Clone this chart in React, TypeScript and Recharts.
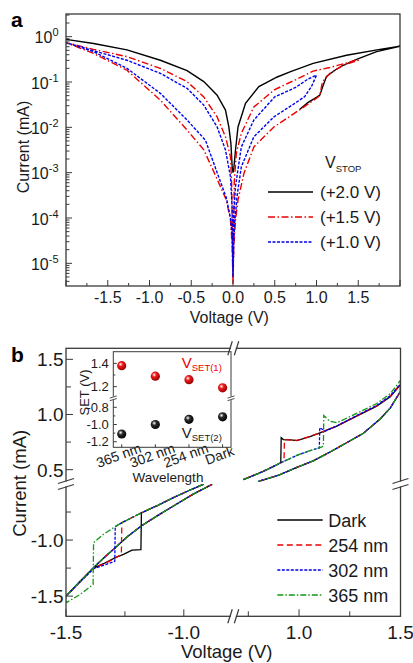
import { LineChart, Line, XAxis, YAxis, Legend, ScatterChart, Scatter } from 'recharts'

type Pt = [number, number]

const FONT = '"Liberation Sans", Arial, Helvetica, sans-serif'
const INK = '#1a1a1a'
const FRAME = '#3a3a3a'

// ---------- panel a: |I| (mA) vs V, every array is one sweep in measured order
const stop20: Pt[] = [
  [0.8, 0.0251], [0.9, 0.0355], [1.0, 0.0457], [1.04, 0.0513], [1.08, 0.0851], [1.12, 0.132], [1.22, 0.182],
  [1.32, 0.234], [1.48, 0.316], [1.72, 0.468], [2.0, 0.617],
  [1.76, 0.525], [1.36, 0.389], [0.96, 0.257], [0.69, 0.17], [0.53, 0.129], [0.31, 0.0794], [0.15, 0.0339],
  [0.06, 0.0102], [0.03, 0.00316], [0.01, 0.00126], [0, 0.001],
  [-0.01, 0.00135], [-0.025, 0.00437], [-0.05, 0.0102], [-0.09, 0.024], [-0.19, 0.0513], [-0.35, 0.102],
  [-0.55, 0.178], [-0.87, 0.302], [-1.27, 0.513], [-1.67, 0.708], [-2.0, 0.871],
]
const stop15: Pt[] = [
  [0, 3.5e-6], [0.01, 2.5e-5], [0.03, 8.9e-5], [0.06, 2.5e-4], [0.13, 9.5e-4], [0.25, 0.0037], [0.49, 0.0102],
  [0.65, 0.016], [0.8, 0.0245], [1.0, 0.0437], [1.04, 0.05], [1.07, 0.1], [1.16, 0.155], [1.32, 0.234], [1.5, 0.302],
  [1.5, 0.316], [1.36, 0.263], [1.16, 0.209], [0.96, 0.174], [0.75, 0.112], [0.5, 0.068], [0.25, 0.0282],
  [0.1, 0.0074], [0.04, 0.0027], [0.015, 6.3e-4], [0, 3.5e-6],
  [-0.015, 5e-4], [-0.03, 0.00224], [-0.09, 0.00617], [-0.19, 0.017], [-0.35, 0.0468], [-0.55, 0.102],
  [-0.87, 0.2], [-1.27, 0.363], [-1.67, 0.525], [-2.0, 0.741],
  [-1.67, 0.427], [-1.27, 0.182], [-0.87, 0.0398], [-0.55, 0.0087], [-0.35, 0.0032], [-0.2, 7.9e-4],
  [-0.08, 2.5e-4], [-0.03, 8.9e-5], [-0.01, 2.5e-5], [0, 3.5e-6],
]
const stop10: Pt[] = [
  [0, 5e-6], [0.01, 3.2e-5], [0.02, 7.9e-5], [0.05, 3.2e-4], [0.1, 0.00135], [0.25, 0.0062], [0.49, 0.017],
  [0.75, 0.0347], [0.86, 0.0479], [0.94, 0.0794], [1.0, 0.141],
  [0.9, 0.117], [0.75, 0.0759], [0.5, 0.047], [0.25, 0.0145], [0.1, 0.0037], [0.03, 5e-4], [0.01, 1.3e-4], [0, 5e-6],
  [-0.01, 1.6e-4], [-0.03, 8.1e-4], [-0.09, 0.00316], [-0.19, 0.0102], [-0.35, 0.0309], [-0.55, 0.0724],
  [-0.87, 0.155], [-1.27, 0.302], [-1.67, 0.49], [-2.0, 0.741],
  [-1.67, 0.468], [-1.27, 0.2], [-0.87, 0.0562], [-0.55, 0.0145], [-0.33, 0.0052], [-0.19, 0.001],
  [-0.08, 2.8e-4], [-0.03, 1e-4], [-0.01, 4e-5], [0, 5e-6],
]
const stopNames = ['(+2.0 V)', '(+1.5 V)', '(+1.0 V)']

// ---------- panel b: I (mA) vs V, negative and positive sweeps
const negReturn: Pt[] = [
  [-1.5, -1.5], [-1.453, -1.396], [-1.383, -1.246], [-1.34, -1.16], [-1.291, -1.068], [-1.24, -0.97],
  [-1.181, -0.875], [-1.11, -0.78], [-1.044, -0.696], [-0.96, -0.59], [-0.88, -0.503],
]
const darkNeg: Pt[] = [
  [-0.917, -0.503], [-0.98, -0.56], [-1.044, -0.621], [-1.11, -0.69], [-1.18, -0.757],
  [-1.182, -1.085], [-1.22, -1.09], [-1.256, -1.128], [-1.291, -1.157], [-1.341, -1.211], [-1.383, -1.25],
  [-1.453, -1.4],
]
const nm254Neg: Pt[] = [
  [-0.917, -0.503], [-0.98, -0.56], [-1.044, -0.621], [-1.11, -0.69], [-1.178, -0.755], [-1.263, -0.845],
  [-1.265, -1.13], [-1.291, -1.16], [-1.341, -1.215], [-1.383, -1.25], [-1.453, -1.4],
]
const nm302Neg: Pt[] = [
  [-0.917, -0.503], [-0.98, -0.56], [-1.044, -0.621], [-1.11, -0.69], [-1.178, -0.755], [-1.263, -0.845],
  [-1.291, -0.88], [-1.293, -1.19], [-1.341, -1.225], [-1.383, -1.255], [-1.453, -1.4],
]
const nm365Neg: Pt[] = [
  [-0.917, -0.503], [-0.98, -0.56], [-1.044, -0.621], [-1.11, -0.69], [-1.178, -0.755], [-1.263, -0.845],
  [-1.291, -0.88], [-1.341, -0.949], [-1.383, -1.023], [-1.385, -1.396], [-1.44, -1.485], [-1.5, -1.56],
]

const posReturn: Pt[] = [
  [1.5, 1.21], [1.45, 1.06], [1.4, 0.96], [1.317, 0.83], [1.25, 0.76], [1.153, 0.66], [1.07, 0.58],
  [0.989, 0.52], [0.9, 0.45], [0.8, 0.394],
]
const darkPos: Pt[] = [
  [0.726, 0.409], [0.78, 0.45], [0.824, 0.485], [0.87, 0.525], [0.91, 0.563], [0.912, 0.79], [0.923, 0.773],
  [0.96, 0.77], [0.989, 0.764], [1.054, 0.8], [1.103, 0.833], [1.186, 0.894], [1.284, 0.985], [1.383, 1.076],
  [1.45, 1.16], [1.5, 1.27],
]
const nm254Pos: Pt[] = [
  [0.726, 0.412], [0.78, 0.452], [0.824, 0.487], [0.87, 0.527], [0.906, 0.56], [0.926, 0.577], [0.928, 0.772],
  [0.96, 0.768], [0.989, 0.766], [1.054, 0.802], [1.103, 0.835], [1.186, 0.896], [1.284, 0.988], [1.383, 1.08],
  [1.45, 1.165], [1.5, 1.275],
]
const nm302Pos: Pt[] = [
  [0.726, 0.41], [0.78, 0.45], [0.824, 0.485], [0.87, 0.525], [0.906, 0.56], [0.95, 0.595], [0.989, 0.63],
  [1.05, 0.67], [1.1, 0.697], [1.102, 0.88], [1.13, 0.85], [1.186, 0.896], [1.284, 0.99], [1.383, 1.082],
  [1.45, 1.17], [1.5, 1.28],
]
const nm365Pos: Pt[] = [
  [0.726, 0.41], [0.78, 0.45], [0.824, 0.485], [0.87, 0.525], [0.906, 0.56], [0.95, 0.595], [0.989, 0.63],
  [1.05, 0.67], [1.1, 0.697], [1.12, 0.712], [1.122, 0.99], [1.151, 0.94], [1.186, 0.925], [1.284, 1.01],
  [1.383, 1.1], [1.45, 1.19], [1.5, 1.31],
]
const lightNames = ['Dark', '254 nm', '302 nm', '365 nm']

// inset
const wavelengths = ['365 nm', '302 nm', '254 nm', 'Dark']
const vset1 = [1.38, 1.29, 1.26, 1.19]
const vset2 = [-1.11, -1.0, -0.94, -0.91]

// ---------- styles
const seriesA = [
  { name: stopNames[0], data: stop20, color: '#000000', dash: undefined as string | undefined },
  { name: stopNames[1], data: stop15, color: '#ec0000', dash: '7 2.5 1.5 2.5' },
  { name: stopNames[2], data: stop10, color: '#0000ee', dash: '3 1.5' },
]
const seriesB = [
  { name: lightNames[0], neg: [...darkNeg, ...negReturn], pos: [...darkPos, ...posReturn], color: '#000000', dash: undefined as string | undefined },
  { name: lightNames[1], neg: [...nm254Neg, ...negReturn], pos: [...nm254Pos, ...posReturn], color: '#ec0000', dash: '6 3.5' },
  { name: lightNames[2], neg: [...nm302Neg, ...negReturn], pos: [...nm302Pos, ...posReturn], color: '#0000ee', dash: '3 1.5' },
  { name: lightNames[3], neg: [...nm365Neg, ...negReturn], pos: [...nm365Pos, ...posReturn], color: '#139613', dash: '6 2 1.5 2' },
]

const rows = (pts: Pt[]) => pts.map(([v, i]) => ({ v, i }))
const near = (a: number, b: number) => Math.abs(a - b) < 1e-6

// legend entries in series order (Recharts sorts its payload by name)
const ordered = (payload: any[], series: { name: string; dash?: string }[]) =>
  series
    .map((s) => {
      const it = (payload || []).find((p: any) => p.value === s.name)
      return it ? { name: s.name, color: it.color, dash: s.dash } : null
    })
    .filter(Boolean) as { name: string; color: string; dash?: string }[]

// ---------- panel a axes
const LOG_LO = 10 ** -5.5
const LOG_HI = 10 ** 0.5
const xTicksA = Array.from({ length: 17 }, (_, k) => -2 + k * 0.25)
const yTicksA: number[] = []
for (let d = -6; d <= 0; d++) {
  for (let m = 1; m <= 9; m++) {
    const t = m * 10 ** d
    if (t >= LOG_LO && t <= LOG_HI) yTicksA.push(t)
  }
}

function XTickA(p: any) {
  const v = p.payload.value
  const major = near(v * 2, Math.round(v * 2))
  const show = major && Math.abs(v) <= 1.5 + 1e-6
  return (
    <g>
      <line x1={p.x} x2={p.x} y1={p.y} y2={p.y - (major ? 6 : 3)} stroke={FRAME} />
      {show && (
        <text x={p.x} y={p.y + 16.5} textAnchor="middle" fontSize={16} fontFamily={FONT} fill={INK}>
          {v.toFixed(1)}
        </text>
      )}
    </g>
  )
}

function YTickA(p: any) {
  const lg = Math.log10(p.payload.value)
  const e = Math.round(lg)
  const major = Math.abs(lg - e) < 1e-6
  return (
    <g>
      <line x1={p.x} x2={p.x + (major ? 6 : 3.5)} y1={p.y} y2={p.y} stroke={FRAME} />
      {major && (
        <text x={p.x - 7.5} y={p.y + 6.5} textAnchor="end" fontSize={16} fontFamily={FONT} fill={INK}>
          10<tspan fontSize={11} dy={-7}>{e}</tspan>
        </text>
      )}
    </g>
  )
}

// ---------- panel b axes
const PB = { left: 66, right: 400.5, top: 18.3, bottom: 286.3, bx: 233.3, by: 154, w: 413, h: 333 }
const xNeg: [number, number] = [-1.5, -0.79]
const xPos: [number, number] = [0.676, 1.5]
const yPos: [number, number] = [0.37, 1.6]
const yNeg: [number, number] = [-1.68, -0.5]
// the upper band uses the right-hand voltage scale stretched over the full width
const xUpperLeft = xPos[0] - ((PB.bx - PB.left) * (xPos[1] - xPos[0])) / (PB.right - PB.bx)

const yTicksPos = [0.5, 0.75, 1.0, 1.25, 1.5]
const yTicksNeg = [-1.5, -1.25, -1.0, -0.75]
const xTicksNeg = [-1.5, -1.25, -1.0]
const xTicksPos = [0.75, 1.0, 1.25, 1.5]

function YTickB(p: any) {
  const v = p.payload.value
  const major = near(v * 2, Math.round(v * 2))
  return (
    <g>
      <line x1={p.x} x2={p.x + (major ? 7 : 5)} y1={p.y} y2={p.y} stroke={FRAME} />
      {major && (
        <text x={p.x - 2.5} y={p.y + 7} textAnchor="end" fontSize={19} fontFamily={FONT} fill={INK}>
          {v.toFixed(1)}
        </text>
      )}
    </g>
  )
}

function XTickB(p: any) {
  const v = p.payload.value
  const major = near(v * 2, Math.round(v * 2))
  return (
    <g>
      <line x1={p.x} x2={p.x} y1={p.y} y2={p.y - (major ? 7 : 5)} stroke={FRAME} />
      {major && (
        <text x={p.x} y={p.y + 22.5} textAnchor="middle" fontSize={19} fontFamily={FONT} fill={INK}>
          {v.toFixed(1)}
        </text>
      )}
    </g>
  )
}

// ---------- inset axes
const IN = { left: 113.3, right: 231, top: 21.7, by: 68.3, bottom: 117.3 }
const insetX: [number, number] = [-0.25, 3.25]
const insetY1: [number, number] = [1.1, 1.5]
const insetY2: [number, number] = [-1.265, -0.695]
const insetTicks1 = [1.2, 1.3, 1.4]
const insetTicks2 = [-1.2, -1.1, -1.0, -0.9, -0.8]

function YTickInset(p: any) {
  const v = p.payload.value
  const major = near(v * 5, Math.round(v * 5))
  return (
    <g>
      <line x1={p.x} x2={p.x + (major ? 3.5 : 2)} y1={p.y} y2={p.y} stroke={FRAME} />
      {major && (
        <text x={p.x - 4.5} y={p.y + 4.7} textAnchor="end" fontSize={13} fontFamily={FONT} fill={INK}>
          {v.toFixed(1)}
        </text>
      )}
    </g>
  )
}

function XTickInset(p: any) {
  const k = Math.round(p.payload.value)
  const cx = p.x - 3
  const cy = p.y + 8
  return (
    <g>
      <line x1={p.x} x2={p.x} y1={p.y} y2={p.y - 3} stroke={FRAME} />
      <text
        x={cx}
        y={cy}
        dy="0.35em"
        textAnchor="middle"
        fontSize={14}
        fontFamily={FONT}
        fill={INK}
        transform={`rotate(-20 ${cx} ${cy})`}
      >
        {wavelengths[k]}
      </text>
    </g>
  )
}

const sphere = (base: string, deep: string, tag: string) => (p: any) => {
  const id = `${tag}-${Math.round(p.cx)}`
  return (
    <g>
      <defs>
        <radialGradient id={id} cx="38%" cy="35%" r="70%">
          <stop offset="0%" stopColor="#ffffff" />
          <stop offset="35%" stopColor={base} />
          <stop offset="100%" stopColor={deep} />
        </radialGradient>
      </defs>
      <circle cx={p.cx} cy={p.cy} r={4.6} fill={`url(#${id})`} />
    </g>
  )
}

// ---------- legends
function LegendA(props: any) {
  const items = ordered(props.payload, seriesA)
  return (
    <svg width={145} height={105} style={{ overflow: 'visible', display: 'block' }}>
      <text x={59} y={18.3} fontSize={16} fontFamily={FONT} fill={INK}>
        V<tspan fontSize={9.5} dy={3.5}>STOP</tspan>
      </text>
      {items.map((it, k) => (
        <g key={it.name}>
          <line x1={2} x2={47} y1={42 + 25 * k} y2={42 + 25 * k} stroke={it.color} strokeWidth={1.4} strokeDasharray={it.dash} />
          <text x={54} y={42 + 25 * k + 6} fontSize={17} fontFamily={FONT} fill={INK}>
            {it.name}
          </text>
        </g>
      ))}
    </svg>
  )
}

function LegendB(props: any) {
  const items = ordered(props.payload, seriesB)
  return (
    <svg width={138} height={100} style={{ overflow: 'visible', display: 'block' }}>
      {items.map((it, k) => (
        <g key={it.name}>
          <line x1={2.3} x2={47.7} y1={15 + 25 * k} y2={15 + 25 * k} stroke={it.color} strokeWidth={1.4} strokeDasharray={it.dash} />
          <text x={53.3} y={15 + 25 * k + 6.5} fontSize={18} fontFamily={FONT} fill={INK}>
            {it.name}
          </text>
        </g>
      ))}
    </svg>
  )
}

// ---------- break marks
function BreakOnVertical({ x, y }: { x: number; y: number }) {
  return (
    <g>
      <rect x={x - 3} y={y - 2.5} width={6} height={5} fill="#fff" />
      <line x1={x - 8} y1={y - 0.5} x2={x + 8} y2={y - 5.5} stroke={FRAME} strokeWidth={1.2} />
      <line x1={x - 8} y1={y + 5.5} x2={x + 8} y2={y + 0.5} stroke={FRAME} strokeWidth={1.2} />
    </g>
  )
}
function BreakOnHorizontal({ x, y }: { x: number; y: number }) {
  return (
    <g>
      <rect x={x - 2.5} y={y - 3} width={5} height={6} fill="#fff" />
      <line x1={x - 5.5} y1={y + 7} x2={x - 1} y2={y - 7} stroke={FRAME} strokeWidth={1.2} />
      <line x1={x + 1} y1={y + 7} x2={x + 5.5} y2={y - 7} stroke={FRAME} strokeWidth={1.2} />
    </g>
  )
}
function BreakSmall({ x, y }: { x: number; y: number }) {
  return (
    <g>
      <rect x={x - 2} y={y - 1.8} width={4} height={3.6} fill="#fff" />
      <line x1={x - 3.5} y1={y - 0.2} x2={x + 3.5} y2={y - 2.4} stroke={FRAME} strokeWidth={0.9} />
      <line x1={x - 3.5} y1={y + 2.4} x2={x + 3.5} y2={y + 0.2} stroke={FRAME} strokeWidth={0.9} />
    </g>
  )
}

const abs = (left: number, top: number): React.CSSProperties => ({ position: 'absolute', left, top })

export default function App() {
  const oy = 330 // panel b origin on the page
  return (
    <div style={{ position: 'absolute', left: 0, top: 0, width: 413, height: 663, background: '#fff', overflow: 'hidden', fontFamily: FONT }}>
      {/* panel a */}
      <div style={abs(0, 0)}>
        <LineChart width={413} height={330} margin={{ top: 14, right: 13, bottom: 0, left: 10 }}>
          <XAxis type="number" dataKey="v" domain={[-2, 2]} allowDataOverflow ticks={xTicksA} interval={0} height={44}
            axisLine={false} tickLine={false} tickSize={0} tickMargin={0} tick={XTickA} />
          <YAxis type="number" dataKey="i" scale="log" domain={[LOG_LO, LOG_HI]} allowDataOverflow ticks={yTicksA} interval={0}
            width={56} axisLine={false} tickLine={false} tickSize={0} tickMargin={0} tick={YTickA} />
          {seriesA.map((s) => (
            <Line key={s.name} name={s.name} data={rows(s.data)} dataKey="i" type="linear" stroke={s.color} strokeWidth={1.4}
              strokeDasharray={s.dash} dot={false} activeDot={false} isAnimationActive={false} legendType="line" />
          ))}
          <Legend layout="vertical" align="center" verticalAlign="middle" content={LegendA}
            wrapperStyle={{ left: 266, top: 150, width: 145, height: 105 }} />
        </LineChart>
      </div>

      {/* panel b, upper band (positive sweep) */}
      <div style={abs(0, oy)}>
        <LineChart width={PB.w} height={PB.h} margin={{ top: PB.top, right: PB.w - PB.right, bottom: PB.h - PB.by, left: PB.left - 56 }}>
          <XAxis type="number" dataKey="v" domain={[xUpperLeft, xPos[1]]} allowDataOverflow hide />
          <YAxis type="number" dataKey="i" domain={yPos} allowDataOverflow ticks={yTicksPos} interval={0} width={56}
            axisLine={false} tickLine={false} tickSize={0} tickMargin={0} tick={YTickB} />
          {seriesB.map((s) => (
            <Line key={s.name} name={s.name} data={rows(s.pos)} dataKey="i" type="linear" stroke={s.color} strokeWidth={1.3}
              strokeDasharray={s.dash} dot={false} activeDot={false} isAnimationActive={false} />
          ))}
        </LineChart>
      </div>

      {/* panel b, lower-left band (negative sweep) */}
      <div style={abs(0, oy)}>
        <LineChart width={PB.w} height={PB.h} margin={{ top: PB.by, right: PB.w - PB.bx, bottom: 0, left: PB.left - 56 }}>
          <XAxis type="number" dataKey="v" domain={xNeg} allowDataOverflow ticks={xTicksNeg} interval={0} height={PB.h - PB.bottom}
            axisLine={false} tickLine={false} tickSize={0} tickMargin={0} tick={XTickB} />
          <YAxis type="number" dataKey="i" domain={yNeg} allowDataOverflow ticks={yTicksNeg} interval={0} width={56}
            axisLine={false} tickLine={false} tickSize={0} tickMargin={0} tick={YTickB} />
          {seriesB.map((s) => (
            <Line key={s.name} name={s.name} data={rows(s.neg)} dataKey="i" type="linear" stroke={s.color} strokeWidth={1.3}
              strokeDasharray={s.dash} dot={false} activeDot={false} isAnimationActive={false} legendType="line" />
          ))}
          <Legend layout="vertical" align="center" verticalAlign="middle" content={LegendB}
            wrapperStyle={{ left: 275, top: 175, width: 138, height: 100 }} />
        </LineChart>
      </div>

      {/* panel b, lower-right voltage axis */}
      <div style={abs(0, oy)}>
        <LineChart width={PB.w} height={PB.h} margin={{ top: PB.by, right: PB.w - PB.right, bottom: 0, left: PB.bx }}>
          <XAxis type="number" dataKey="v" domain={xPos} allowDataOverflow ticks={xTicksPos} interval={0} height={PB.h - PB.bottom}
            axisLine={false} tickLine={false} tickSize={0} tickMargin={0} tick={XTickB} />
          <YAxis type="number" dataKey="i" domain={yNeg} allowDataOverflow hide />
        </LineChart>
      </div>

      {/* inset, V_SET(1) */}
      <div style={abs(0, oy)}>
        <ScatterChart width={PB.w} height={PB.h} margin={{ top: IN.top, right: PB.w - IN.right, bottom: PB.h - IN.by, left: IN.left - 40 }}>
          <XAxis type="number" dataKey="idx" domain={insetX} allowDataOverflow hide />
          <YAxis type="number" dataKey="v" domain={insetY1} allowDataOverflow ticks={insetTicks1} interval={0} width={40}
            axisLine={false} tickLine={false} tickSize={0} tickMargin={0} tick={YTickInset} />
          <Scatter data={vset1.map((v, idx) => ({ idx, v }))} shape={sphere('#f01818', '#8a0000', 'r')} isAnimationActive={false} />
        </ScatterChart>
      </div>

      {/* inset, V_SET(2) */}
      <div style={abs(0, oy)}>
        <ScatterChart width={PB.w} height={PB.h} margin={{ top: IN.by, right: PB.w - IN.right, bottom: PB.h - IN.bottom - 40, left: IN.left - 40 }}>
          <XAxis type="number" dataKey="idx" domain={insetX} allowDataOverflow ticks={[0, 1, 2, 3]} interval={0} height={40}
            axisLine={false} tickLine={false} tickSize={0} tickMargin={0} tick={XTickInset} />
          <YAxis type="number" dataKey="v" domain={insetY2} allowDataOverflow ticks={insetTicks2} interval={0} width={40}
            axisLine={false} tickLine={false} tickSize={0} tickMargin={0} tick={YTickInset} />
          <Scatter data={vset2.map((v, idx) => ({ idx, v }))} shape={sphere('#2a2a2a', '#000000', 'k')} isAnimationActive={false} />
        </ScatterChart>
      </div>

      {/* frames, titles and axis breaks */}
      <svg width={413} height={663} style={{ position: 'absolute', left: 0, top: 0, pointerEvents: 'none' }}>
        <text x={11} y={26.7} fontSize={21} fontWeight="bold" fontFamily={FONT} fill="#000">a</text>
        <rect x={66} y={14} width={334} height={272} fill="none" stroke={FRAME} strokeWidth={1.3} />
        <text x={23} y={147} dy="0.35em" textAnchor="middle" fontSize={16} fontFamily={FONT} fill={INK} transform="rotate(-90 23 147)">
          Current (mA)
        </text>
        <text x={229.3} y={323} textAnchor="middle" fontSize={16} fontFamily={FONT} fill={INK}>Voltage (V)</text>

        <g transform={`translate(0 ${oy})`}>
          <text x={11} y={31.7} fontSize={21} fontWeight="bold" fontFamily={FONT} fill="#000">b</text>
          <rect x={PB.left} y={PB.top} width={PB.right - PB.left} height={PB.bottom - PB.top} fill="none" stroke={FRAME} strokeWidth={1.3} />
          <BreakOnVertical x={PB.left} y={PB.by} />
          <BreakOnVertical x={PB.right} y={PB.by} />
          <BreakOnHorizontal x={PB.bx} y={PB.top} />
          <BreakOnHorizontal x={PB.bx} y={PB.bottom} />
          <text x={20} y={153.3} dy="0.35em" textAnchor="middle" fontSize={18.5} fontFamily={FONT} fill={INK} transform="rotate(-90 20 153.3)">
            Current (mA)
          </text>
          <text x={226.7} y={328} textAnchor="middle" fontSize={18.5} fontFamily={FONT} fill={INK}>Voltage (V)</text>

          <rect x={IN.left} y={IN.top} width={IN.right - IN.left} height={IN.bottom - IN.top} fill="none" stroke={FRAME} strokeWidth={1} />
          <BreakSmall x={IN.left} y={IN.by} />
          <BreakSmall x={IN.right} y={IN.by} />
          <text x={84} y={62.5} dy="0.35em" textAnchor="middle" fontSize={13} fontFamily={FONT} fill={INK} transform="rotate(-90 84 62.5)">
            SET (V)
          </text>
          <text x={168} y={151.5} textAnchor="middle" fontSize={13.5} fontFamily={FONT} fill={INK}>Wavelength</text>
          <text x={181.7} y={37.5} fontSize={15} fontFamily={FONT} fill="#ec0000">
            V<tspan fontSize={9.5} dy={3.5}>SET(1)</tspan>
          </text>
          <text x={181.7} y={107.5} fontSize={15} fontFamily={FONT} fill={INK}>
            V<tspan fontSize={9.5} dy={3.5}>SET(2)</tspan>
          </text>
        </g>
      </svg>
    </div>
  )
}
